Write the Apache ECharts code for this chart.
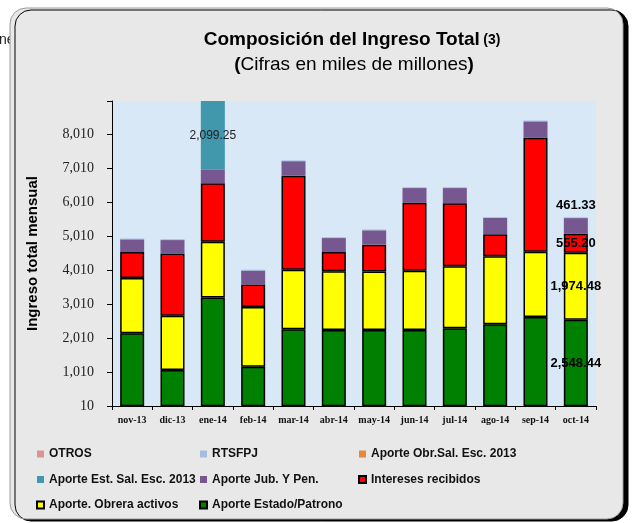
<!DOCTYPE html>
<html>
<head>
<meta charset="utf-8">
<script src="https://cdn.jsdelivr.net/npm/echarts@6/dist/echarts.min.js"></script>
<style>html,body{margin:0;padding:0;background:#fff;}#c{width:634px;height:523px;}</style>
</head>
<body>
<div id="c"></div>
<script>
var categories = ['nov-13','dic-13','ene-14','feb-14','mar-14','abr-14','may-14','jun-14','jul-14','ago-14','sep-14','oct-14'];
var estadoPatrono = [2152, 1066, 3206, 1163, 2270, 2250, 2250, 2250, 2300, 2418, 2626, 2548.44];
var obreraActivos = [1628, 1598, 1640, 1759, 1747, 1725, 1716, 1737, 1823, 2001, 1924, 1974.48];
var intereses     = [758, 1835, 1716, 660, 2770, 563, 791, 2001, 1856, 643, 3353, 555.20];
var jubPen        = [376, 394, 403, 414, 427, 414, 423, 435, 444, 480, 483, 461.33];
var estSalEsc     = [0, 0, 2099.25, 0, 0, 0, 0, 0, 0, 0, 0, 0];
var obrSalEsc     = [0, 0, 0, 0, 0, 0, 0, 0, 0, 0, 0, 0];
var rtsfpj        = [25, 25, 25, 25, 25, 25, 25, 25, 25, 25, 25, 25];
var otros         = [0, 0, 0, 0, 0, 0, 0, 0, 0, 0, 0, 0];
var yMin = 10, yMax = 8985, yStep = 1000;

function fmt(v){ return v.toLocaleString('en-US', {minimumFractionDigits: 2, maximumFractionDigits: 2}); }
var octLabel = {show: true, position: 'inside', color: '#000', fontFamily: 'Liberation Sans, Arial', fontWeight: 'bold', fontSize: 13, formatter: function(p){ return fmt(p.value); }};
function withLabel(arr, idx, lab){ return arr.map(function(v,i){ return i === idx ? {value: v, label: lab} : v; }); }

var bordered = {borderColor: '#000', borderWidth: 1.5};
function ser(name, data, color, border){
  return {name: name, type: 'bar', stack: 'total', data: data, barWidth: 24, clip: true,
    itemStyle: Object.assign({color: color}, border ? bordered : {borderWidth: 0}), emphasis: {disabled: true}};
}
var series = [
  ser('Aporte Estado/Patrono', withLabel(estadoPatrono, 11, octLabel), '#008000', true),
  ser('Aporte. Obrera activos', withLabel(obreraActivos, 11, octLabel), '#FFFF00', true),
  ser('Intereses recibidos', withLabel(intereses, 11, octLabel), '#FF0000', true),
  ser('Aporte Jub. Y Pen.', withLabel(jubPen, 11, Object.assign({}, octLabel, {position: 'top', distance: 6})), '#76578F', false),
  ser('Aporte Est. Sal. Esc. 2013', withLabel(estSalEsc, 2, {show: true, position: 'inside', color: '#222', fontFamily: 'Liberation Sans, Arial', fontSize: 12, formatter: function(p){ return fmt(p.value); }}), '#4197AB', false),
  ser('Aporte Obr.Sal. Esc. 2013', obrSalEsc, '#E3893E', false),
  ser('RTSFPJ', rtsfpj, '#A5BEDF', false),
  ser('OTROS', otros, '#D99594', false)
];

var legendText = {fontFamily: 'Liberation Sans, Arial', fontWeight: 'bold', fontSize: 12, color: '#111'};
function leg(left, names){
  return {orient: 'vertical', left: left, top: 448, padding: 0, itemWidth: 7, itemHeight: 7, itemGap: 13.5, icon: 'rect',
    selectedMode: false, textStyle: legendText, data: names};
}

var chart = echarts.init(document.getElementById('c'), null, {renderer: 'canvas'});
chart.setOption({
  animation: false,
  backgroundColor: '#fff',
  graphic: [
    {type: 'text', z: -120, style: {x: -1, y: 40, text: 'ne', fill: '#222', font: '14px Liberation Sans, Arial', textVerticalAlign: 'middle'}},
    {type: 'rect', z: -110, shape: {x: 10, y: 8, width: 613, height: 511, r: 16},
     style: {fill: '#e8e8e8', stroke: '#9a9a9a', lineWidth: 1, shadowColor: '#000', shadowOffsetX: 5, shadowOffsetY: 2, shadowBlur: 0}},
    {type: 'text', z: 10, style: {x: 352, y: 40, textAlign: 'center', textVerticalAlign: 'middle',
      text: '{a|Composición del Ingreso Total} {b|(3)}',
      rich: {a: {fontFamily: 'Liberation Sans, Arial', fontWeight: 'bold', fontSize: 19, fill: '#000'},
             b: {fontFamily: 'Liberation Sans, Arial', fontWeight: 'bold', fontSize: 14, fill: '#000'}}}},
    {type: 'text', z: 10, style: {x: 354, y: 65, textAlign: 'center', textVerticalAlign: 'middle',
      text: '{b|(}{a|Cifras en miles de millones}{b|)}',
      rich: {a: {fontFamily: 'Liberation Sans, Arial', fontSize: 19, fill: '#000'},
             b: {fontFamily: 'Liberation Sans, Arial', fontWeight: 'bold', fontSize: 19, fill: '#000'}}}}
  ],
  legend: [
    leg(36, ['OTROS', 'Aporte Est. Sal. Esc. 2013', 'Aporte. Obrera activos']),
    leg(199, ['RTSFPJ', 'Aporte Jub. Y Pen.', 'Aporte Estado/Patrono']),
    leg(358, ['Aporte Obr.Sal. Esc. 2013', 'Intereses recibidos'])
  ],
  grid: {left: 112, right: 38, top: 101, bottom: 117, show: true, backgroundColor: '#d9e8f6', borderWidth: 0, containLabel: false},
  xAxis: {type: 'category', data: categories,
    axisLine: {lineStyle: {color: '#000', width: 1}},
    axisTick: {show: true, length: 4, lineStyle: {color: '#000'}},
    axisLabel: {interval: 0, fontFamily: 'Liberation Serif, Times New Roman, serif', fontWeight: 'bold', fontSize: 10, color: '#111', margin: 9}},
  yAxis: {type: 'value', min: yMin, max: yMax, interval: yStep,
    name: 'Ingreso total mensual', nameLocation: 'middle', nameGap: 72,
    nameTextStyle: {fontFamily: 'Liberation Sans, Arial', fontWeight: 'bold', fontSize: 15, color: '#000'},
    axisLine: {show: true, lineStyle: {color: '#000', width: 1}},
    axisTick: {show: true, length: 5, lineStyle: {color: '#000'}},
    splitLine: {show: false},
    axisLabel: {fontFamily: 'Liberation Serif, Times New Roman, serif', fontSize: 14, color: '#222', margin: 18,
      formatter: function(v){ return ((v - yMin) % yStep === 0) ? v.toLocaleString('en-US') : ''; }}},
  series: series
});
</script>
</body>
</html>
